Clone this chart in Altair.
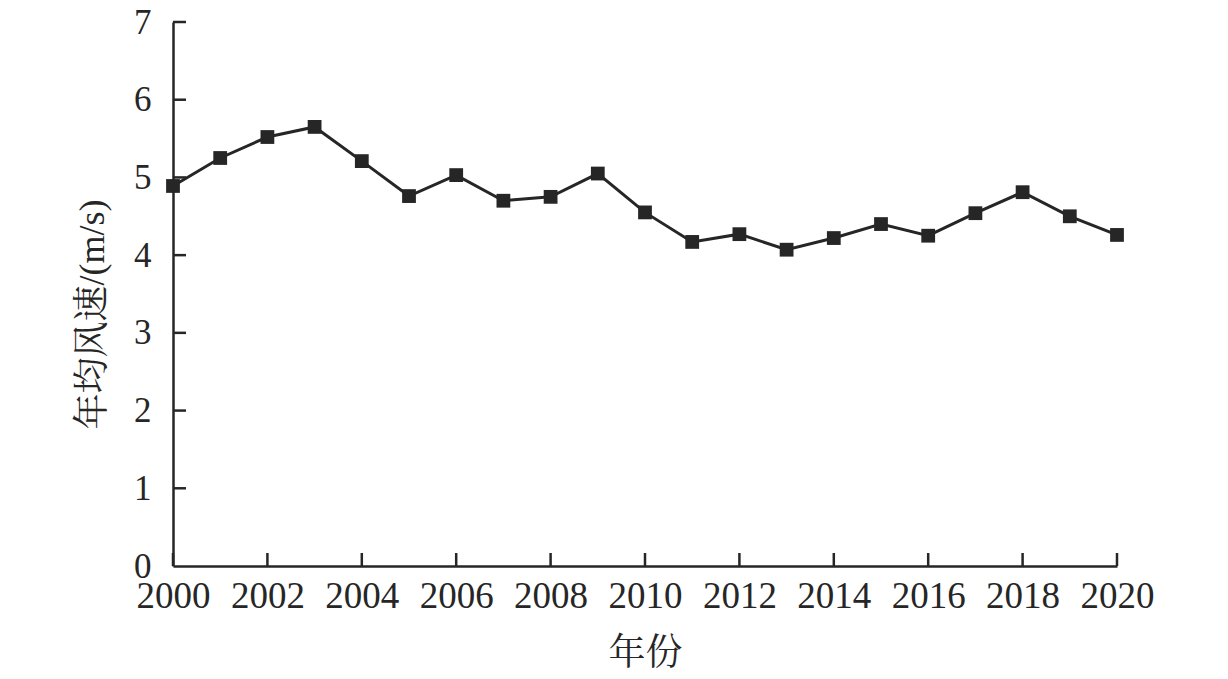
import altair as alt
import pandas as pd

years = list(range(2000, 2021))
speeds = [4.89, 5.25, 5.52, 5.65, 5.21, 4.76, 5.03, 4.70, 4.75, 5.05,
          4.55, 4.17, 4.27, 4.07, 4.22, 4.40, 4.25, 4.54, 4.81, 4.50, 4.26]
x_ticks = list(range(2000, 2021, 2))
y_ticks = [1, 2, 3, 4, 5, 6, 7]

df = pd.DataFrame({"year": years, "speed": speeds})
xt = pd.DataFrame({"year": x_ticks})
yt = pd.DataFrame({"speed": y_ticks})

INK = "#262626"
FONT = "Times New Roman, Liberation Serif, Noto Serif CJK SC, Noto Sans CJK SC"
W, H = 944, 544

xscale = alt.Scale(domain=[2000, 2020], nice=False, zero=False)
yscale = alt.Scale(domain=[0, 7], nice=False)

xaxis = alt.Axis(values=x_ticks, format="d", ticks=False, grid=False,
                 domainColor=INK, domainWidth=2.5, labelFont=FONT, labelFontSize=37,
                 labelColor=INK, labelPadding=12, labelFlush=False, labelOverlap=False,
                 title="年份", titleFont=FONT, titleFontSize=37, titleFontWeight="normal",
                 titleColor=INK, titlePadding=21)
yaxis = alt.Axis(values=[0] + y_ticks, format="d", ticks=False, grid=False,
                 domainColor=INK, domainWidth=2.5, labelFont=FONT, labelFontSize=35,
                 labelColor=INK, labelPadding=22, labelFlush=False,
                 title="年均风速/(m/s)", titleFont=FONT, titleFontSize=36,
                 titleFontWeight="normal", titleColor=INK, titlePadding=22,
                 titleY=292)

line = alt.Chart(df).mark_line(color=INK, strokeWidth=3).encode(
    x=alt.X("year:Q", scale=xscale, axis=xaxis),
    y=alt.Y("speed:Q", scale=yscale, axis=yaxis),
)
pts = alt.Chart(df).mark_square(size=190, color=INK, opacity=1).encode(
    x=alt.X("year:Q", scale=xscale),
    y=alt.Y("speed:Q", scale=yscale),
)
xtick_rules = alt.Chart(xt).mark_rule(color=INK, strokeWidth=2.5).encode(
    x=alt.X("year:Q", scale=xscale),
    y=alt.value(H), y2=alt.value(H - 13),
)
ytick_rules = alt.Chart(yt).mark_rule(color=INK, strokeWidth=2.5).encode(
    y=alt.Y("speed:Q", scale=yscale),
    x=alt.value(0), x2=alt.value(13),
)

chart = alt.layer(line, pts, xtick_rules, ytick_rules).properties(
    width=W, height=H,
    autosize=alt.AutoSizeParams(type="none"),
    padding={"left": 165, "top": 14, "right": 50, "bottom": 105},
    background="white",
).configure_view(stroke=None)

chart.save("out.html", embed_options={"renderer": "svg", "actions": False})
